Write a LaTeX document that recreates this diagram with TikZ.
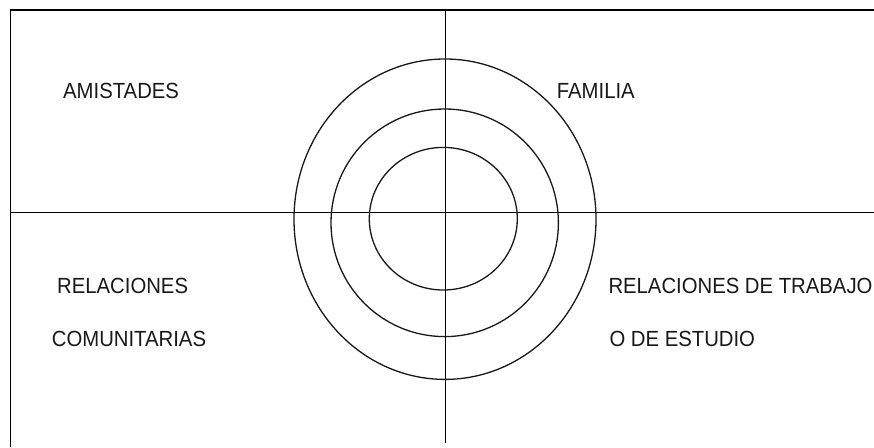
\documentclass[tikz,border=0pt]{standalone}
\usepackage{fontspec}
\usepackage{graphicx}
\setmainfont{Liberation Sans}
\newcommand{\tallcaps}[1]{\scalebox{1}[1.08]{#1}}
\begin{document}
\begin{tikzpicture}[x=1pt,y=-1pt,
  rule/.style={line width=1.4pt,black},
  ring/.style={line width=1.3pt,black!90},
  lab/.style={anchor=base west,inner sep=0pt,font=\fontsize{20.3}{24}\selectfont,text=black!90}]
\useasboundingbox[fill=white] (0,0) rectangle (874,447);
% frame: top and left only
\coordinate (tl) at (10.5,9.8);
\coordinate (tr) at (874,9.8);
\coordinate (bl) at (10.5,447);
\draw[rule] (tr) -- (tl) -- (bl);
% axes
\coordinate (vt) at (445.5,9.8);
\coordinate (vb) at (445.5,443);
\coordinate (hl) at (10.5,212.7);
\coordinate (hr) at (874,212.7);
\draw[rule] (vt) -- (vb);
\draw[rule] (hl) -- (hr);
% rings
\draw[ring] (445,219.2) ellipse [x radius=151, y radius=160.2];
\draw[ring] (444.7,222.8) ellipse [x radius=113.7, y radius=113.8];
\draw[ring] (443.3,218.7) ellipse [x radius=74, y radius=71.3];
% labels
\node[lab] (amistades) at (63,98.3) {\tallcaps{AMISTADES}};
\node[lab] (familia) at (556.7,98.3) {\tallcaps{FAMILIA}};
\node[lab] (relcom1) at (57,293.3) {\tallcaps{RELACIONES}};
\node[lab] (relcom2) at (51.7,346) {\tallcaps{COMUNITARIAS}};
\node[lab] (reltra1) at (608.3,293.3) {\tallcaps{RELACIONES DE TRABAJO}};
\node[lab] (reltra2) at (609.3,346.7) {\tallcaps{O DE ESTUDIO}};
\end{tikzpicture}
\end{document}
